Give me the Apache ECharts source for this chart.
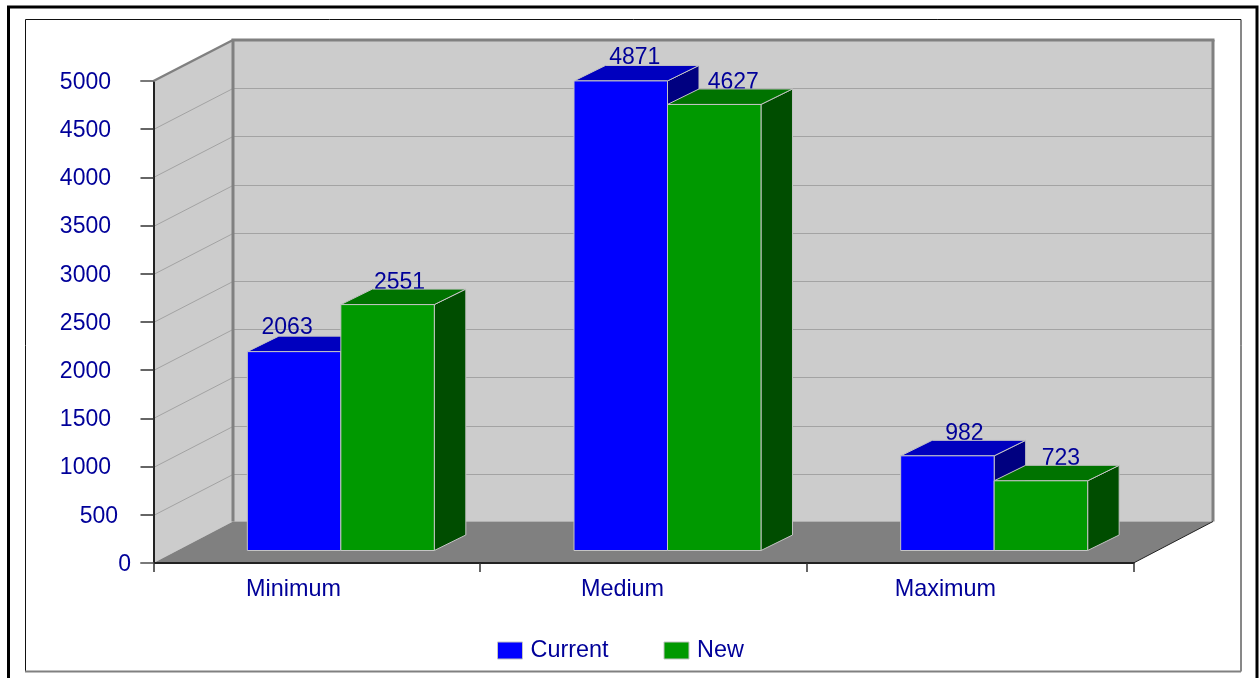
<!DOCTYPE html>
<html>
<head>
<meta charset="utf-8">
<style>html,body{margin:0;padding:0;background:#fff;overflow:hidden}#chart{width:1259px;height:678px}</style>
<script src="https://cdn.jsdelivr.net/npm/echarts@6/dist/echarts.min.js"></script>
</head>
<body>
<div id="chart"></div>
<script>
const categories = ['Minimum', 'Medium', 'Maximum'];
const currentValues = [2063, 4871, 982];
const newValues = [2551, 4627, 723];
const yTicks = [0, 500, 1000, 1500, 2000, 2500, 3000, 3500, 4000, 4500, 5000];

const FONT = '"Liberation Sans", Arial, sans-serif';
const INK = '#000099';
const TEXT_SIZE = 23.4;
const DIGIT_SIZE = 23;

// Projection of the box: the back wall sits up and right of the front plane.
const WALL_DX = 79.5, WALL_DY = 41, FLOOR_DY = 41.5;
// Bars stand part-way into the floor.
const BAR_SHIFT_X = 24, BAR_SHIFT_Y = 12.5;
const BAR_FRACTION = 0.2862;
const CUBE_DX = 31.5, CUBE_DY = 15.5;

// Hand placement of each value label relative to its bar's top centre.
const LABEL_NUDGE = {
  Current: [[-7, -24], [14, -23], [17, -22]],
  New: [[12, -22], [19, -22], [20, -22]]
};

const chart = echarts.init(document.getElementById('chart'), null, { renderer: 'canvas' });

function shade(hex, k) {
  const n = parseInt(hex.slice(1), 16);
  const c = [(n >> 16) & 255, (n >> 8) & 255, n & 255].map(v => Math.round(v * k));
  return 'rgb(' + c.join(',') + ')';
}

function poly(points, fill, stroke, lineWidth) {
  return {
    type: 'polygon',
    shape: { points: points },
    style: { fill: fill, stroke: stroke || null, lineWidth: lineWidth || 0 }
  };
}
function seg(x1, y1, x2, y2, stroke, lineWidth) {
  return {
    type: 'line',
    shape: { x1: x1, y1: y1, x2: x2, y2: y2 },
    style: { stroke: stroke, lineWidth: lineWidth, fill: null }
  };
}

// Back wall, side wall, floor and their grid lines.
function renderWalls(params, api) {
  const g = params.coordSys;
  const L = g.x, R = g.x + g.width;
  const yTop = api.coord([0, 5000])[1], yBase = api.coord([0, 0])[1];
  const kids = [
    poly([[L + WALL_DX, yTop - WALL_DY], [R + WALL_DX, yTop - WALL_DY], [R + WALL_DX, yBase - FLOOR_DY], [L + WALL_DX, yBase - FLOOR_DY]], '#cccccc'),
    poly([[L, yTop], [L + WALL_DX, yTop - WALL_DY], [L + WALL_DX, yBase - FLOOR_DY], [L, yBase]], '#cccccc'),
    poly([[L, yBase], [L + WALL_DX, yBase - FLOOR_DY], [R + WALL_DX, yBase - FLOOR_DY], [R, yBase]], '#808080')
  ];
  yTicks.forEach(function (v) {
    if (v === 0 || v === 5000) return;
    const y = Math.round(api.coord([0, v])[1]) + 0.5;
    kids.push(seg(L, y, L + WALL_DX, y - WALL_DY, '#a3a3a3', 1));
    kids.push(seg(L + WALL_DX, y - WALL_DY, R + WALL_DX, y - WALL_DY, '#a3a3a3', 1));
  });
  return { type: 'group', children: kids };
}

// Heavy edges of the box, drawn over the axes.
function renderEdges(params, api) {
  const g = params.coordSys;
  const L = g.x, R = g.x + g.width;
  const yTop = api.coord([0, 5000])[1], yBase = api.coord([0, 0])[1];
  const gray = '#808080';
  return {
    type: 'group',
    children: [
      seg(L - 13, yTop, L, yTop, gray, 1.5),
      seg(L - 13, yBase, L, yBase, gray, 1.5),
      seg(L, yTop, L + WALL_DX, yTop - WALL_DY, gray, 2.5),
      seg(L + WALL_DX - 1.5, yTop - WALL_DY, R + WALL_DX + 1.5, yTop - WALL_DY, gray, 3),
      seg(L + WALL_DX, yTop - WALL_DY, L + WALL_DX, yBase - FLOOR_DY, gray, 3),
      seg(R + WALL_DX, yTop - WALL_DY, R + WALL_DX, yBase - FLOOR_DY, gray, 3),
      seg(R, yBase, R + WALL_DX, yBase - FLOOR_DY, '#222222', 1)
    ]
  };
}

function makeBarRenderer(name, color, side) {
  return function (params, api) {
    const idx = api.value(0), val = api.value(1);
    const w = api.size([1, 0])[0] * BAR_FRACTION;
    const center = api.coord([idx, val]);
    const base = api.coord([idx, 0]);
    const x0 = center[0] + BAR_SHIFT_X + side * w;
    const x1 = x0 + w;
    const yT = center[1] - BAR_SHIFT_Y;
    const yB = base[1] - BAR_SHIFT_Y;
    const edge = '#c4c4c4';
    const nudge = LABEL_NUDGE[name][idx];
    return {
      type: 'group',
      children: [
        {
          type: 'text',
          style: {
            text: String(val),
            x: (x0 + x1) / 2 + nudge[0],
            y: yT + nudge[1],
            align: 'center',
            verticalAlign: 'middle',
            fill: INK,
            font: DIGIT_SIZE + 'px ' + FONT
          }
        },
        poly([[x1, yT], [x1 + CUBE_DX, yT - CUBE_DY], [x1 + CUBE_DX, yB - CUBE_DY], [x1, yB]], shade(color, 0.5), edge, 1),
        poly([[x0, yT], [x0 + CUBE_DX, yT - CUBE_DY], [x1 + CUBE_DX, yT - CUBE_DY], [x1, yT]], shade(color, 0.75), edge, 1),
        poly([[x0, yT], [x1, yT], [x1, yB], [x0, yB]], color, edge, 1)
      ]
    };
  };
}

function points(values) {
  return values.map(function (v, i) { return [i, v]; });
}

const option = {
  animation: false,
  backgroundColor: '#ffffff',
  textStyle: { fontFamily: FONT },
  grid: { left: 153.5, top: 81, width: 980, height: 482, containLabel: false },
  legend: {
    data: ['Current', 'New'],
    left: 497,
    top: 639,
    icon: 'rect',
    itemWidth: 25,
    itemHeight: 17,
    itemGap: 55,
    selectedMode: false,
    padding: 0,
    itemStyle: { borderColor: '#c4c4c4', borderWidth: 1 },
    textStyle: { color: INK, fontSize: TEXT_SIZE, fontFamily: FONT, padding: [0, 0, 3, 3] }
  },
  xAxis: {
    type: 'category',
    z: 2,
    data: [
      { value: categories[0], textStyle: { padding: [0, 46.6, 0, 0] } },
      { value: categories[1], textStyle: { padding: [0, 42, 0, 0] } },
      { value: categories[2], textStyle: { padding: [0, 49.5, 0, 0] } }
    ],
    axisLine: { show: true, lineStyle: { color: '#222222', width: 2 } },
    axisTick: { show: true, length: 9, lineStyle: { color: '#333333', width: 1.5 } },
    axisLabel: { color: INK, fontSize: TEXT_SIZE, fontFamily: FONT, margin: 15.5 },
    splitLine: { show: false }
  },
  yAxis: {
    type: 'value',
    z: 2,
    min: 0,
    max: 5000,
    interval: 500,
    axisLine: { show: true, lineStyle: { color: '#222222', width: 2 } },
    axisTick: { show: true, length: 13, lineStyle: { color: '#333333', width: 1.5 } },
    splitLine: { show: false },
    axisLabel: {
      margin: 22.5,
      color: INK,
      align: 'right',
      formatter: function (v) {
        return (v >= 1000 ? '{wide|' : v === 500 ? '{mid|' : '{one|') + v + '}';
      },
      rich: {
        wide: { color: INK, fontSize: DIGIT_SIZE, fontFamily: FONT, padding: [3, 20, 0, 0] },
        mid: { color: INK, fontSize: DIGIT_SIZE, fontFamily: FONT, padding: [3, 13, 0, 0] },
        one: { color: INK, fontSize: DIGIT_SIZE, fontFamily: FONT, padding: [3, 0, 0, 0] }
      }
    }
  },
  graphic: [
    { type: 'rect', silent: true, z: -10, shape: { x: 8.5, y: 7, width: 1248.5, height: 690 }, style: { fill: 'none', stroke: '#000000', lineWidth: 3 } },
    { type: 'rect', silent: true, z: -10, shape: { x: 25.5, y: 19.5, width: 1215.5, height: 652 }, style: { fill: 'none', stroke: '#111111', lineWidth: 1 } },
    { type: 'line', silent: true, z: -9, shape: { x1: 25, y1: 671.5, x2: 1241, y2: 671.5 }, style: { stroke: '#808080', lineWidth: 2 } }
  ],
  series: [
    { name: 'walls', type: 'custom', z: 1, silent: true, clip: false, coordinateSystem: 'cartesian2d', data: [[0, 0]], renderItem: renderWalls },
    { name: 'edges', type: 'custom', z: 3, silent: true, clip: false, coordinateSystem: 'cartesian2d', data: [[0, 0]], renderItem: renderEdges },
    { name: 'Current', type: 'custom', z: 4, silent: true, clip: false, coordinateSystem: 'cartesian2d', itemStyle: { color: '#0000ff' }, data: points(currentValues), renderItem: makeBarRenderer('Current', '#0000ff', -1) },
    { name: 'New', type: 'custom', z: 5, silent: true, clip: false, coordinateSystem: 'cartesian2d', itemStyle: { color: '#009900' }, data: points(newValues), renderItem: makeBarRenderer('New', '#009900', 0) }
  ]
};
chart.setOption(option);
</script>
</body>
</html>
